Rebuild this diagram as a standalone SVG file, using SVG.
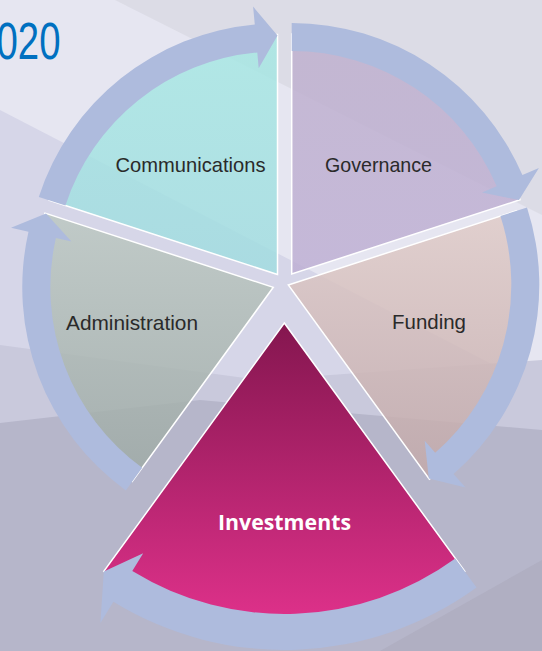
<svg xmlns="http://www.w3.org/2000/svg" width="542" height="651" viewBox="0 0 542 651">
<defs>
<linearGradient id="gInv" gradientUnits="userSpaceOnUse" x1="0" y1="323" x2="0" y2="620"><stop offset="0" stop-color="#84164F"/><stop offset="1" stop-color="#DE318A"/></linearGradient>
<linearGradient id="gComm" gradientUnits="userSpaceOnUse" x1="0" y1="34" x2="0" y2="275"><stop offset="0" stop-color="#A6E8E3"/><stop offset="1" stop-color="#A0DCE0"/></linearGradient>
<linearGradient id="gGov" gradientUnits="userSpaceOnUse" x1="0" y1="34" x2="0" y2="275"><stop offset="0" stop-color="#BEAFCD"/><stop offset="1" stop-color="#BDAED3"/></linearGradient>
<linearGradient id="gFund" gradientUnits="userSpaceOnUse" x1="0" y1="210" x2="0" y2="480"><stop offset="0" stop-color="#E0CBC7"/><stop offset="1" stop-color="#C2A8A8"/></linearGradient>
<linearGradient id="gAdm" gradientUnits="userSpaceOnUse" x1="0" y1="210" x2="0" y2="480"><stop offset="0" stop-color="#BCC8C1"/><stop offset="1" stop-color="#9DA9A4"/></linearGradient>
</defs>
<style>
.wedge{stroke:#FFFFFF;stroke-width:1.5;stroke-linejoin:miter}
.soft{fill-opacity:0.82}
.arrow{fill:#AEBBDD}
.lbl{font-family:"Liberation Sans",Arial,sans-serif;font-size:21px;fill:#2A2A2A;text-anchor:middle}
.inv{font-family:"Open Sans","Noto Sans",sans-serif;font-weight:bold;font-size:21px;fill:#FFFFFF;text-anchor:middle}
.title{font-family:"Liberation Sans",Arial,sans-serif;font-size:51px;fill:#0070C0}
</style>
<g id="background">
<rect x="0" y="0" width="542" height="651" fill="#E6E6F1"/>
<polygon points="115,0 542,0 542,215" fill="#DCDCE6"/>
<polygon points="0,110 542,390 542,651 0,651" fill="#D6D6E8"/>
<polygon points="0,345 260,380 542,360 542,651 0,651" fill="#C9C9DC"/>
<polygon points="0,423 200,400 542,430 542,651 0,651" fill="#B6B6CA"/>
<polygon points="542,560 380,651 542,651" fill="#B0AFC2"/>
</g>
<text class="title" x="-3.5" y="59" textLength="64" lengthAdjust="spacingAndGlyphs">020</text>
<g id="communications">
<path class="wedge soft" fill="url(#gComm)" d="M277.5,274.5 L49.2,200.3 A240,240 0 0,1 277.5,34.5 Z"/>
<text class="lbl" x="190.5" y="172" textLength="150" lengthAdjust="spacingAndGlyphs">Communications</text>
</g>
<g id="governance">
<path class="wedge soft" fill="url(#gGov)" d="M291.7,274 L291.7,34 A240,240 0 0,1 520,199.8 Z"/>
<text class="lbl" x="378.5" y="172" textLength="107" lengthAdjust="spacingAndGlyphs">Governance</text>
</g>
<g id="funding">
<path class="wedge soft" fill="url(#gFund)" d="M288.3,285 L516.6,210.8 A240,240 0 0,1 429.4,479.2 Z"/>
<text class="lbl" x="429" y="329" textLength="74" lengthAdjust="spacingAndGlyphs">Funding</text>
</g>
<g id="administration">
<path class="wedge soft" fill="url(#gAdm)" d="M273.3,287.3 L132.2,481.5 A240,240 0 0,1 45,213.1 Z"/>
<text class="lbl" x="132" y="330" textLength="132" lengthAdjust="spacingAndGlyphs">Administration</text>
</g>
<g id="investments">
<path class="wedge" fill="url(#gInv)" d="M284.3,323 L464.8,571.4 A307,307 0 0,1 103.8,571.4 Z"/>
<text class="inv" x="284.5" y="530" textLength="133" lengthAdjust="spacingAndGlyphs">Investments</text>
</g>
<g id="connectors">
<path class="arrow" d="M38.8,196.9 A251,251 0 0,1 254.8,24.5 L253.1,6.6 L277.5,35.5 L258.7,68.3 L257.3,52.4 A223,223 0 0,0 65.4,205.6 Z"/>
<path class="arrow" d="M291.7,23 A251,251 0 0,1 522.4,175.1 L538.9,168 L519,200.1 L482,192.5 L496.7,186.2 A223,223 0 0,0 291.7,51 Z"/>
<path class="arrow" d="M527,207.4 A251,251 0 0,1 453.6,473.9 L465.5,487.4 L428.8,478.4 L424.7,440.7 L435.2,452.8 A223,223 0 0,0 500.4,216.1 Z"/>
<path class="arrow" d="M476.5,587.5 A327,327 0 0,1 113.4,601.8 L100.4,623.1 L103.8,571.4 L143.2,553.2 L132.3,571.1 A291,291 0 0,0 455.3,558.4 Z"/>
<path class="arrow" d="M125.8,490.4 A251,251 0 0,1 28.5,231.7 L11,227.7 L46,213.4 L71.5,241.4 L55.9,237.9 A223,223 0 0,0 142.2,467.7 Z"/>
</g>
</svg>
